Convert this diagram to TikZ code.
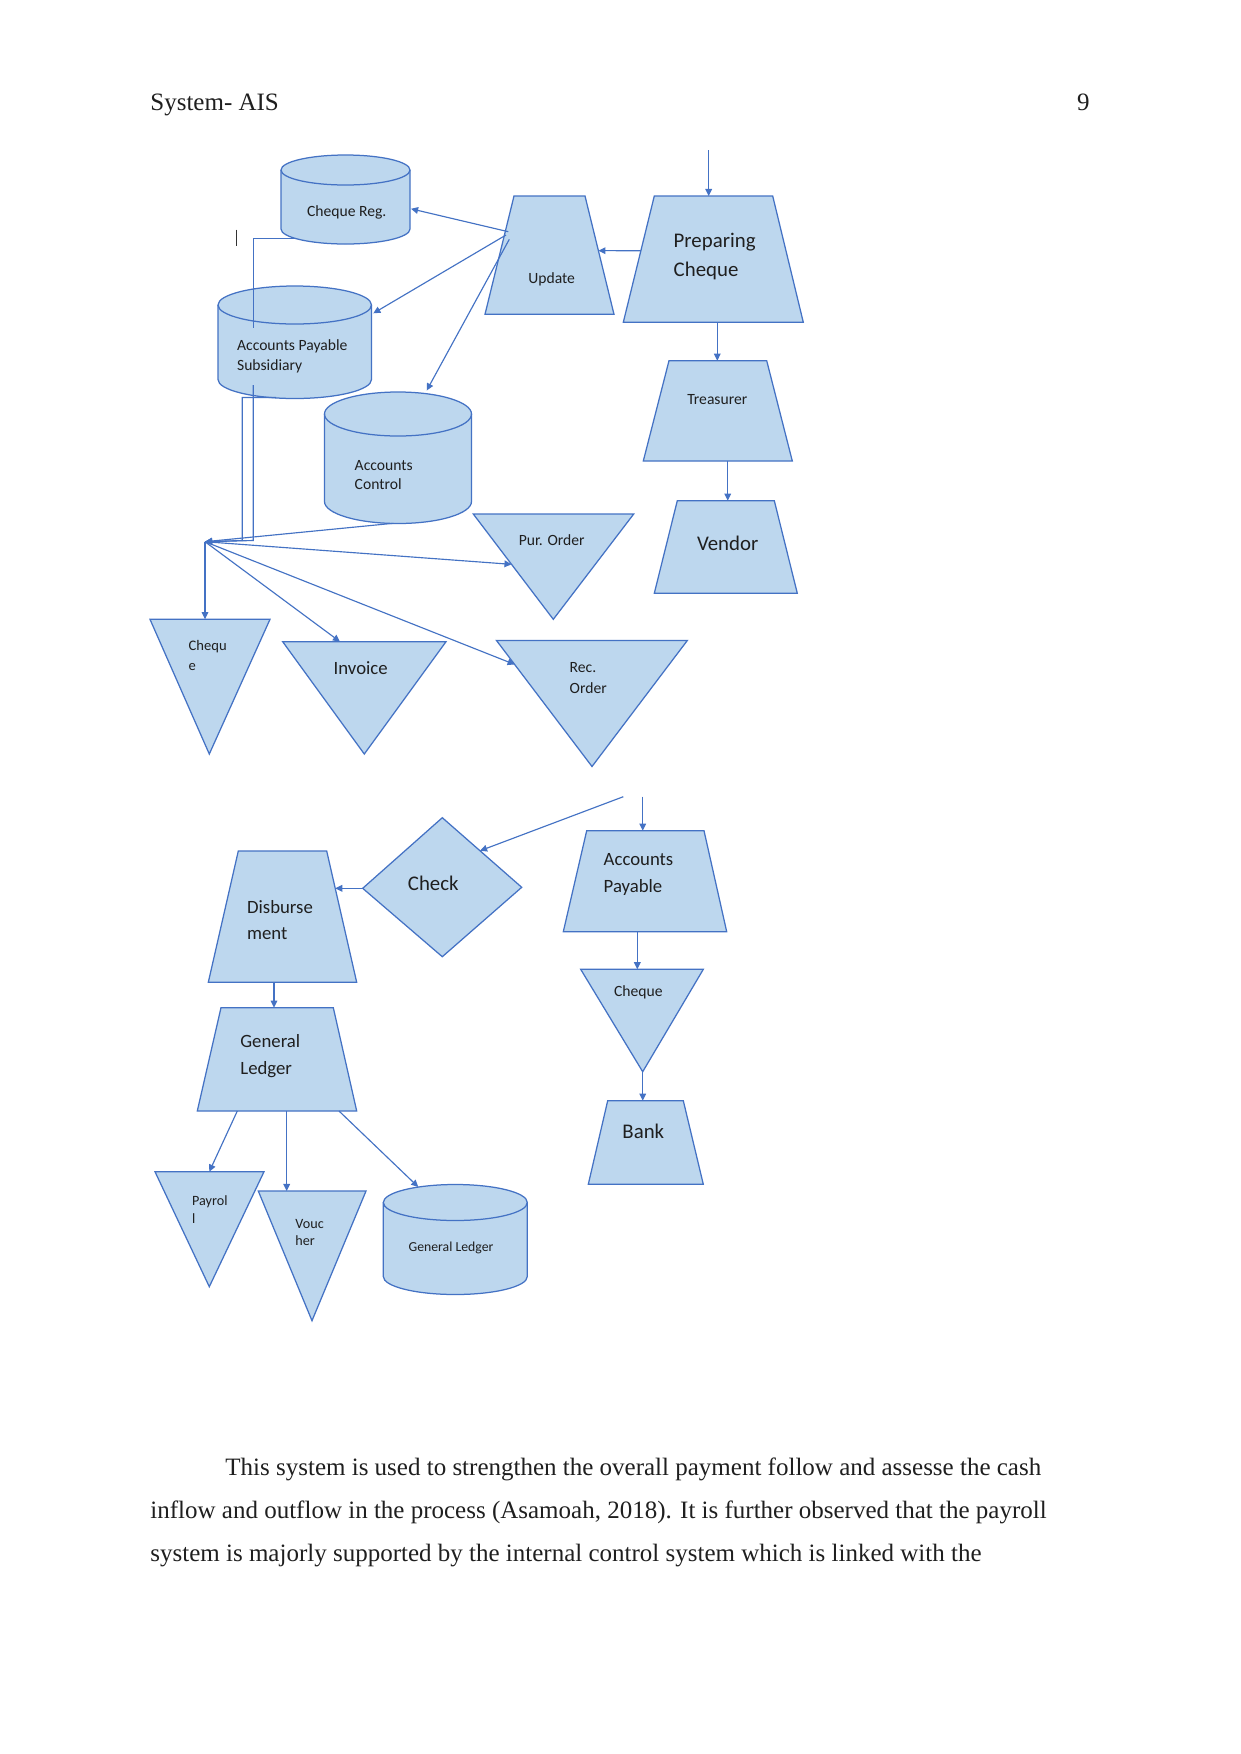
\documentclass[tikz,border=0pt]{standalone}
\usepackage{fontspec}
\setmainfont{Liberation Serif}
\newfontfamily\shapefont{Carlito}
\usetikzlibrary{arrows.meta,calc}
\definecolor{boxfill}{HTML}{BDD7EE}
\definecolor{boxline}{HTML}{4472C4}
\tikzset{
  shapestyle/.style={fill=boxfill,draw=boxline,line width=0.6pt,line join=miter},
  shapeline/.style={draw=boxline,line width=0.6pt},
  conn/.style={draw=boxline,line width=0.55pt,-{Triangle[length=3.4pt,width=3.2pt]}},
  plainconn/.style={draw=boxline,line width=0.55pt},
  lbl/.style 2 args={font=\shapefont\fontsize{#1}{#2}\selectfont,inner sep=0pt,align=left,text=black!88,yshift=-0.7pt},
  bodytext/.style={font=\fontsize{12}{14}\selectfont,inner sep=0pt,text=black!88}
}
\newcommand\mytrap[7]{%
  \draw[shapestyle] (#2,#4) coordinate (#1-tl) -- (#3,#4) coordinate (#1-tr) -- (#6,#7) coordinate (#1-br) -- (#5,#7) coordinate (#1-bl) -- cycle;}
\newcommand\mytri[6]{%
  \draw[shapestyle] (#2,#4) coordinate (#1-tl) -- (#3,#4) coordinate (#1-tr) -- (#5,#6) coordinate (#1-v) -- cycle;}
\newcommand\mycyl[6]{%
  \pgfmathsetmacro\cylcx{(#2+#3)/2}%
  \pgfmathsetmacro\cylrx{(#3-#2)/2}%
  \pgfmathsetmacro\cylct{#4+#6}%
  \pgfmathsetmacro\cylcb{#5-#6}%
  \pgfmathsetmacro\cylkx{0.5523*\cylrx}%
  \pgfmathsetmacro\cylky{0.5523*#6}%
  \pgfmathsetmacro\cylL{\cylcx-\cylkx}%
  \pgfmathsetmacro\cylR{\cylcx+\cylkx}%
  \pgfmathsetmacro\cylbt{\cylcb+\cylky}%
  \pgfmathsetmacro\cyltt{\cylct-\cylky}%
  \pgfmathsetmacro\cyltd{\cylct+\cylky}%
  \pgfmathsetmacro\cylmid{\cylct+#6}%
  \draw[shapestyle] (#2,\cylct) -- (#2,\cylcb) .. controls (#2,\cylbt) and (\cylL,#5) .. (\cylcx,#5) .. controls (\cylR,#5) and (#3,\cylbt) .. (#3,\cylcb) -- (#3,\cylct) .. controls (#3,\cyltt) and (\cylR,#4) .. (\cylcx,#4) .. controls (\cylL,#4) and (#2,\cyltt) .. (#2,\cylct) -- cycle;
  \draw[shapeline] (#2,\cylct) .. controls (#2,\cyltd) and (\cylL,\cylmid) .. (\cylcx,\cylmid) .. controls (\cylR,\cylmid) and (#3,\cyltd) .. (#3,\cylct);
  \coordinate (#1-c) at (\cylcx,{(#4+#5)/2});}
\begin{document}
\begin{tikzpicture}[x=0.48pt,y=-0.48pt]
\fill[white] (0,0) rectangle (1241,1754);
\useasboundingbox (0,0) rectangle (1241,1754);

% header
\node[bodytext,anchor=base west] (hdr) at (150,110) {System- AIS};
\node[bodytext,anchor=base east] (pgno) at (1090,110) {9};

% ---------- shapes ----------
\mycyl{creg}{281}{410}{155}{244}{15}
\mycyl{aps}{218}{371.5}{286}{398.5}{19}
\mycyl{actl}{324.5}{471.5}{392}{523.5}{22}
\mycyl{glc}{383.3}{527.3}{1184.5}{1294.5}{18}

\mytrap{upd}{514}{585}{196}{485}{614}{314.3}
\mytrap{prep}{654.3}{772.7}{196}{623.3}{803.3}{322.3}
\mytrap{treas}{669}{766.7}{360.7}{643.3}{792.3}{461}
\mytrap{vend}{677.3}{774.3}{500.7}{654.3}{797.3}{593.3}
\mytrap{disb}{238.3}{326.7}{851}{208.3}{356.7}{982.3}
\mytrap{glt}{221}{333.3}{1007.7}{197.3}{356.7}{1111}
\mytrap{ap}{586.7}{704}{830.7}{563.3}{726.7}{931.7}
\mytrap{bank}{607.7}{683.3}{1100.7}{588.3}{703.3}{1184.3}

\mytri{po}{473.3}{633.7}{514}{553.3}{619.3}
\mytri{chqa}{150}{270}{619.3}{209.3}{754}
\mytri{inv}{282.7}{446}{641.7}{364.3}{754}
\mytri{ro}{496.5}{687.3}{640.5}{592}{766.5}
\mytri{chqb}{580.7}{703.3}{969.3}{642.7}{1071.7}
\mytri{pay}{155}{264}{1171.7}{209.3}{1286.7}
\mytri{vou}{258.3}{366}{1191}{312}{1320.7}

\draw[shapestyle] (442.3,817.7) coordinate (chk-t) -- (521.7,887.3) coordinate (chk-r) -- (442.3,956.7) coordinate (chk-b) -- (362.7,888.3) coordinate (chk-l) -- cycle;

% stray cursor mark
\draw[black!80,line width=0.45pt] (236,229.5) coordinate (cur-a) -- (236,246) coordinate (cur-b);

% ---------- connectors ----------
\coordinate (jn) at (205,541.7);
\coordinate (topin) at (708.7,150);
\coordinate (prep-in) at (708.7,196);
\draw[conn] (topin) -- (prep-in);
\coordinate (prep-l) at ($(prep-tl)!0.433!(prep-bl)$);
\coordinate (upd-r) at ($(upd-tr)!0.462!(upd-br)$);
\draw[conn] (prep-l) -- (upd-r);
\coordinate (prep-out) at (717.3,322.3);
\coordinate (treas-in) at (717.3,360.7);
\draw[conn] (prep-out) -- (treas-in);
\coordinate (treas-out) at (727.7,461);
\coordinate (vend-in) at (727.7,500.7);
\draw[conn] (treas-out) -- (vend-in);

\coordinate (upd-a) at (508.3,231.7);
\coordinate (creg-in) at (411,208.8);
\draw[conn] (upd-a) -- (creg-in);
\coordinate (upd-b) at (506,235);
\coordinate (aps-in) at (373.3,313.3);
\draw[conn] (upd-b) -- (aps-in);
\coordinate (upd-c) at (509.3,239.3);
\coordinate (actl-in) at (426.7,390.5);
\draw[conn] (upd-c) -- (actl-in);

% feeds into junction
\coordinate (creg-out) at (296.7,238.8);
\coordinate (pa) at (253.3,238.8);
\coordinate (pb) at (253.3,328);
\draw[plainconn] (creg-out) -- (pa) -- (pb);
\coordinate (pc) at (253.3,385);
\coordinate (pd) at (253.3,540.5);
\draw[conn] (pc) -- (pd) -- (jn);
\coordinate (aps-out) at (276,397.5);
\coordinate (qa) at (242.3,397.5);
\coordinate (qb) at (242.3,540.5);
\draw[conn] (aps-out) -- (qa) -- (qb) -- (jn);
\coordinate (actl-out) at (393.3,523.3);
\draw[conn] (actl-out) -- (jn);

% from junction
\coordinate (chqa-in) at (205,619.3);
\draw[conn] (jn) -- (chqa-in);
\coordinate (inv-in) at (340,641.7);
\draw[conn] (jn) -- (inv-in);
\coordinate (po-in) at ($(po-tl)!0.478!(po-v)$);
\draw[conn] (jn) -- (po-in);
\coordinate (ro-in) at ($(ro-tl)!0.19!(ro-v)$);
\draw[conn] (jn) -- (ro-in);

% lower part
\coordinate (freeA) at (623.3,796.7);
\coordinate (chk-in) at ($(chk-t)!0.475!(chk-r)$);
\draw[conn] (freeA) -- (chk-in);
\coordinate (freeB) at (642.7,796.7);
\coordinate (ap-in) at (642.7,830.7);
\draw[conn] (freeB) -- (ap-in);
\coordinate (ap-out) at (637.3,931.7);
\coordinate (chqb-in) at (637.3,969.3);
\draw[conn] (ap-out) -- (chqb-in);
\coordinate (bank-in) at (642.7,1100.7);
\draw[conn] (chqb-v) -- (bank-in);
\coordinate (disb-in) at ($(disb-tr)!0.284!(disb-br)$);
\draw[conn] (chk-l) -- (chk-l -| disb-in);
\coordinate (disb-out) at (274,982.3);
\coordinate (glt-in) at (274,1007.7);
\draw[conn] (disb-out) -- (glt-in);
\coordinate (glt-o1) at (237.3,1111);
\coordinate (pay-in) at (209.3,1171.7);
\draw[conn] (glt-o1) -- (pay-in);
\coordinate (glt-o2) at (286.7,1111);
\coordinate (vou-in) at (286.7,1191);
\draw[conn] (glt-o2) -- (vou-in);
\coordinate (glt-o3) at (339,1111);
\coordinate (glc-in) at (418.3,1187);
\draw[conn] (glt-o3) -- (glc-in);

% ---------- labels ----------
\node[lbl={7.5}{9.6}] (t-creg) at (346.7,210.7) {Cheque Reg.};
\node[lbl={7.5}{9.6}] (t-upd) at (551.7,278.3) {Update};
\node[lbl={10}{13.6},anchor=west] (t-prep) at (673.3,255.2) {Preparing\\Cheque};
\node[lbl={7.5}{9.6},anchor=west] (t-aps) at (236.7,355) {Accounts Payable\\Subsidiary};
\node[lbl={7.5}{9.3},anchor=west] (t-actl) at (354.3,473.7) {Accounts\\Control};
\node[lbl={7.5}{9.6}] (t-treas) at (717.3,398.3) {Treasurer};
\node[lbl={10}{12}] (t-vend) at (727.7,541.7) {Vendor};
\node[lbl={7.5}{9.6}] (t-po) at (551.7,538.3) {Pur. Order};
\node[lbl={7}{9.6},anchor=west] (t-chqa) at (188.3,654) {Chequ\\e};
\node[lbl={9}{11}] (t-inv) at (360.7,666.7) {Invoice};
\node[lbl={7.5}{10},anchor=west] (t-ro) at (569.3,676.2) {Rec.\\Order};
\node[lbl={10}{12}] (t-chk) at (433.3,881.7) {Check};
\node[lbl={9}{12.8},anchor=west] (t-ap) at (603.3,873.3) {Accounts\\Payable};
\node[lbl={7.5}{9.6}] (t-chqb) at (638.3,990.7) {Cheque};
\node[lbl={10}{12}] (t-bank) at (643.3,1130) {Bank};
\node[lbl={9}{12.5},anchor=west] (t-disb) at (246.7,918.7) {Disburse\\ment};
\node[lbl={9}{12.8},anchor=west] (t-glt) at (240,1054.3) {General\\Ledger};
\node[lbl={6.8}{8.5},anchor=west] (t-pay) at (191.7,1207.8) {Payrol\\l};
\node[lbl={6.8}{8.5},anchor=west] (t-vou) at (295,1231) {Vouc\\her};
\node[lbl={6.6}{8}] (t-glc) at (451,1246.7) {General Ledger};

% ---------- body text ----------
\node[bodytext,anchor=base west] (body1) at (225,1475) {This system is used to strengthen the overall payment follow and assesse the cash};
\node[bodytext,anchor=base west] (body2) at (150,1518) {inflow and outflow in the process (Asamoah, 2018). It is further observed that the payroll};
\node[bodytext,anchor=base west] (body3) at (150,1561) {system is majorly supported by the internal control system which is linked with the};
\end{tikzpicture}
\end{document}
